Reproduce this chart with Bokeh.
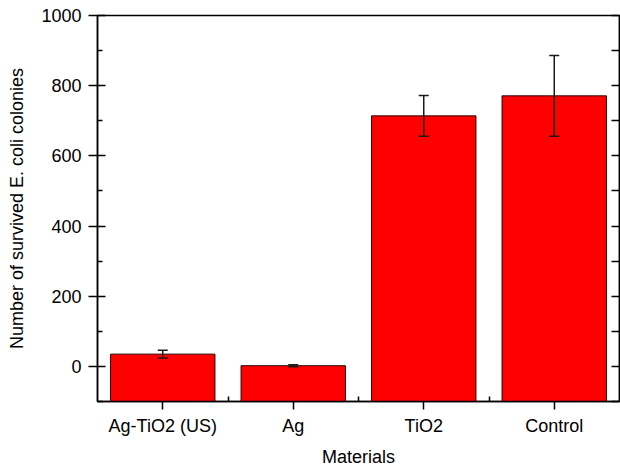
from bokeh.plotting import figure
from bokeh.models import ColumnDataSource, FixedTicker, LinearAxis, Whisker, TeeHead, Range1d
from bokeh.embed import file_html
from bokeh.resources import INLINE

categories = ["Ag-TiO2 (US)", "Ag", "TiO2", "Control"]
values = [35, 2, 714, 771]
errors = [11, 3, 58, 115]
y_ticks = [0, 200, 400, 600, 800, 1000]
y_minor = [-100, 100, 300, 500, 700, 900]
y_min, y_max = -100, 1000

FONT = "Liberation Sans"

xpos = [i + 1 for i in range(len(categories))]
src = ColumnDataSource(dict(
    x=xpos, top=values,
    upper=[v + e for v, e in zip(values, errors)],
    lower=[v - e for v, e in zip(values, errors)],
))

p = figure(width=620, height=469, output_backend="svg", toolbar_location=None,
           x_range=Range1d(0.5, 4.5), y_range=Range1d(y_min, y_max),
           min_border_left=97, min_border_right=1, min_border_top=15, min_border_bottom=67)
p.background_fill_color = "white"
p.border_fill_color = "white"
p.outline_line_color = "black"
p.outline_line_width = 1.5
p.grid.visible = False

p.vbar(x="x", top="top", bottom=y_min, width=0.8, source=src,
       fill_color="#FF0000", line_color="#2a0000", line_width=1)

w = Whisker(base="x", upper="upper", lower="lower", source=src, level="overlay",
            line_color="#1a1a1a", line_width=1.5,
            upper_head=TeeHead(size=10, line_width=1.5, line_color="#1a1a1a"),
            lower_head=TeeHead(size=10, line_width=1.5, line_color="#1a1a1a"))
p.add_layout(w)

xa = p.xaxis[0]
xa.ticker = FixedTicker(ticks=xpos, minor_ticks=[1.5, 2.5, 3.5])
xa.major_label_overrides = {x: c for x, c in zip(xpos, categories)}
xa.axis_label = "Materials"
xa.major_tick_out = 8
xa.major_tick_in = 0
xa.minor_tick_in = 5
xa.minor_tick_out = 0

ya = p.yaxis[0]
ya.ticker = FixedTicker(ticks=y_ticks, minor_ticks=y_minor)
ya.axis_label = "Number of survived E. coli colonies"
ya.major_tick_out = 9
ya.major_tick_in = 8
ya.minor_tick_in = 5
ya.minor_tick_out = 0

for ax in [xa, ya]:
    ax.axis_line_width = 1.5
    ax.major_tick_line_width = 1.5
    ax.minor_tick_line_width = 1.5
    ax.major_label_text_font = FONT
    ax.major_label_text_font_size = "18px"
    ax.major_label_text_color = "black"
    ax.axis_label_text_font = FONT
    ax.axis_label_text_font_size = "18px"
    ax.axis_label_text_font_style = "normal"
    ax.axis_label_text_color = "black"
ya.major_label_standoff = 7
ya.axis_label_standoff = 11
xa.major_label_standoff = 6
xa.axis_label_standoff = 8

ra = LinearAxis(ticker=FixedTicker(ticks=y_ticks, minor_ticks=y_minor),
                major_tick_in=8, major_tick_out=0, minor_tick_in=8, minor_tick_out=0,
                major_label_overrides={t: "" for t in y_ticks}, major_label_standoff=0,
                axis_line_width=1.5, major_tick_line_width=1.5, minor_tick_line_width=1.5)
p.add_layout(ra, "right")

open("out.html", "w").write(file_html(p, INLINE))
